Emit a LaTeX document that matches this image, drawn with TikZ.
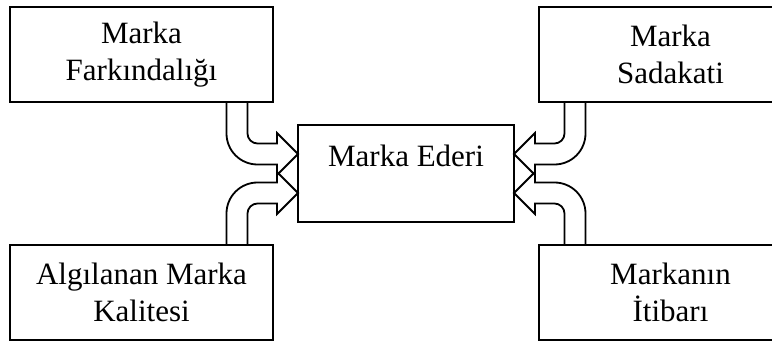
\documentclass[tikz,border=0pt]{standalone}
\usepackage{fontspec}
\setmainfont{Liberation Serif}

\tikzset{
  box/.style={draw, line width=1.8pt, outer sep=0pt, align=center,
    minimum width=263pt, minimum height=95pt,
    font=\fontsize{31pt}{37pt}\selectfont},
  bend arrow/.pic={
    \draw[line width=1.8pt, line join=miter]
      (-10.5,0) -- (-10.5,-31.5) arc[start angle=180, end angle=270, radius=31]
      -- (40,-62.5) -- (40,-73) -- (61,-52) -- (40,-31) -- (40,-41.5)
      -- (20.5,-41.5) arc[start angle=270, end angle=180, radius=10] -- (10.5,0);
  }
}

\begin{document}
\begin{tikzpicture}[x=1pt, y=1pt]
  \useasboundingbox (0,0) rectangle (772,343);

  \node[box] (fark) at (141.5,288.5) {Marka\\Farkındalığı};
  \node[box] (algi) at (141.5,50.5) {Algılanan Marka\\Kalitesi};
  \node[box] (sadakat) at (670.5,288.5) {Marka\\Sadakati};
  \node[box] (itibar) at (670.5,50.5) {Markanın\\İtibarı};
  \node[box, minimum width=216pt, minimum height=97pt,
    text height=22pt, text depth=36pt] (ederi) at (406,169.5) {Marka Ederi};

  \pic at ([xshift=-36pt]fark.south east) {bend arrow};
  \pic[yscale=-1] at ([xshift=-36pt]algi.north east) {bend arrow};
  \pic[xscale=-1] at ([xshift=36pt]sadakat.south west) {bend arrow};
  \pic[xscale=-1, yscale=-1] at ([xshift=36pt]itibar.north west) {bend arrow};
\end{tikzpicture}
\end{document}
